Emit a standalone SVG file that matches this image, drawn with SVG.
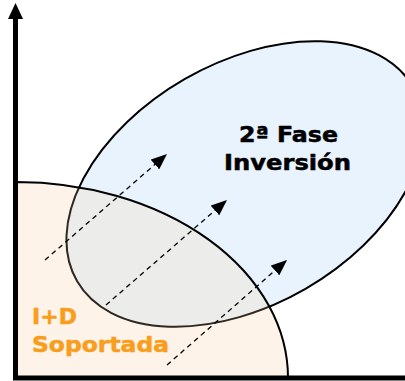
<svg xmlns="http://www.w3.org/2000/svg" width="405" height="381" viewBox="0 0 405 381">
<style>
.lbl{font-family:"DejaVu Sans",Verdana,sans-serif;font-weight:bold;stroke-width:0.5;stroke-linejoin:round}
.dark{fill:#000;stroke:#000}
.org{fill:#f99d1c;stroke:#f99d1c}
.dash{stroke:#000;stroke-width:1.3;stroke-dasharray:5 4;fill:none}
</style>
<defs>
<marker id="ah" viewBox="0 0 16 13" refX="16" refY="6.5" markerWidth="16" markerHeight="13" markerUnits="userSpaceOnUse" orient="auto">
<path d="M0,0 L16,6.5 L0,13 Z" fill="#000"/>
</marker>
<clipPath id="qclip"><path d="M16,378 L16,182 A272,196 0 0 1 288,378 Z"/></clipPath>
</defs>
<rect width="405" height="381" fill="#fff"/>
<g id="fase2">
<ellipse cx="245" cy="184" rx="194" ry="121" transform="rotate(-30 245 184)" fill="#e9f3fd" stroke="#000" stroke-width="2"/>
</g>
<g id="id-soportada">
<path d="M16,378 L16,182 A272,196 0 0 1 288,378 Z" fill="#fdf3e9"/>
<g clip-path="url(#qclip)">
<ellipse cx="245" cy="184" rx="194" ry="121" transform="rotate(-30 245 184)" fill="#ececea" stroke="#2e2822" stroke-width="2"/>
</g>
<path d="M16,378 L16,182 A272,196 0 0 1 288,378" fill="none" stroke="#000" stroke-width="2"/>
</g>
<g id="connectors">
<line class="dash" x1="45" y1="260" x2="167" y2="154" marker-end="url(#ah)"/>
<line class="dash" x1="106" y1="305" x2="227" y2="200" marker-end="url(#ah)"/>
<line class="dash" x1="167" y1="365" x2="287" y2="260" marker-end="url(#ah)"/>
</g>
<g id="axes">
<line x1="15.5" y1="380" x2="15.5" y2="17" stroke="#000" stroke-width="5"/>
<path d="M15.5,3 L8,19 L23,19 Z" fill="#000"/>
<line x1="13" y1="378" x2="405" y2="378" stroke="#000" stroke-width="5"/>
</g>
<g id="labels">
<text class="lbl dark" x="239" y="142" font-size="21" textLength="99" lengthAdjust="spacingAndGlyphs">2ª Fase</text>
<text class="lbl dark" x="224" y="170" font-size="21" textLength="127" lengthAdjust="spacingAndGlyphs">Inversión</text>
<text class="lbl org" x="32" y="324" font-size="22" textLength="45" lengthAdjust="spacingAndGlyphs">I+D</text>
<text class="lbl org" x="32" y="352" font-size="22" textLength="137" lengthAdjust="spacingAndGlyphs">Soportada</text>
</g>
</svg>
